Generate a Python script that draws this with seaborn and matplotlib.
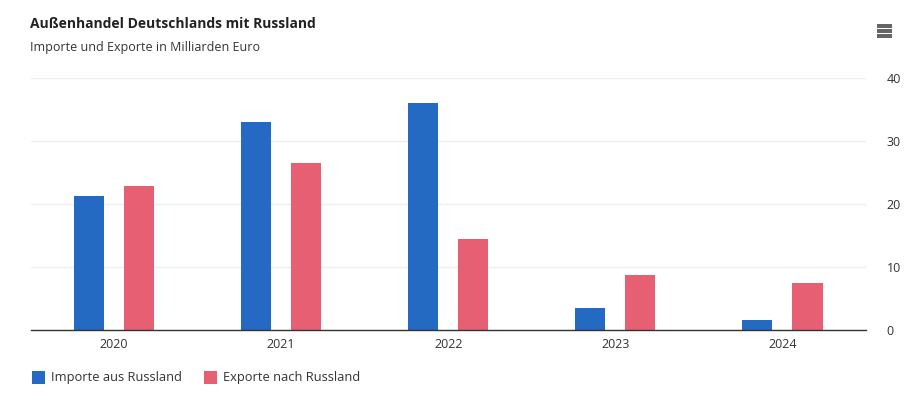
import matplotlib
matplotlib.use("Agg")
import matplotlib.pyplot as plt
import seaborn as sns
import pandas as pd
from matplotlib.patches import Rectangle

years = ["2020", "2021", "2022", "2023", "2024"]
importe = [21.2, 33.0, 36.1, 3.5, 1.6]
exporte = [22.8, 26.5, 14.4, 8.7, 7.5]
series = ["Importe aus Russland", "Exporte nach Russland"]
yticks = [0, 10, 20, 30, 40]

df = pd.DataFrame({
    "Jahr": years * 2,
    "Wert": importe + exporte,
    "Serie": [series[0]] * len(years) + [series[1]] * len(years),
})

sns.set_theme(style="white")
plt.rcParams["font.family"] = ["Open Sans", "DejaVu Sans"]

W, H = 917, 395
fig = plt.figure(figsize=(W / 100, H / 100), dpi=100)
ax = fig.add_axes([30.5 / W, (H - 330) / H, (866 - 30.5) / W, (330 - 78) / H])

colors = {series[0]: "#2469c2", series[1]: "#e65f72"}
sns.barplot(data=df, x="Jahr", y="Wert", hue="Serie", palette=colors,
            width=0.6, gap=0.4, ax=ax, legend=False, saturation=1,
            linewidth=0, edgecolor="none")

ax.set_ylim(0, 40)
ax.set_xlim(-0.5, len(years) - 0.5)
ax.set_yticks(yticks)
ax.yaxis.tick_right()
ax.tick_params(axis="y", length=0, pad=15, labelsize=9, labelcolor="#333333")
ax.tick_params(axis="x", length=0, pad=6, labelsize=9, labelcolor="#333333")
ax.set_xlabel("")
ax.set_ylabel("")
ax.grid(axis="y", color="#eeeeee", linewidth=1)
ax.set_axisbelow(True)
for s in ["top", "left", "right"]:
    ax.spines[s].set_visible(False)
ax.spines["bottom"].set_color("#333333")
ax.spines["bottom"].set_linewidth(1)

fig.text(30 / W, 1 - 24 / H, "Außenhandel Deutschlands mit Russland",
         fontsize=10, fontweight="bold", color="#222222", va="center", ha="left")
fig.text(30 / W, 1 - 47 / H, "Importe und Exporte in Milliarden Euro",
         fontsize=9, color="#333333", va="center", ha="left")

# legend
lx = [32, 204]
for i, s in enumerate(series):
    fig.patches.append(Rectangle((lx[i] / W, 1 - 384 / H), 13 / W, 13 / H,
                                 transform=fig.transFigure, facecolor=colors[s],
                                 linewidth=0))
    fig.text((lx[i] + 19) / W, 1 - 377.5 / H, s, fontsize=9.3, color="#333333",
             va="center", ha="left")

# menu icon
for yy in [26, 31, 36]:
    fig.patches.append(Rectangle((877 / W, 1 - (yy + 1.5) / H), 15 / W, 3 / H,
                                 transform=fig.transFigure, facecolor="#666666",
                                 linewidth=0))

fig.savefig("out.png", dpi=100)
